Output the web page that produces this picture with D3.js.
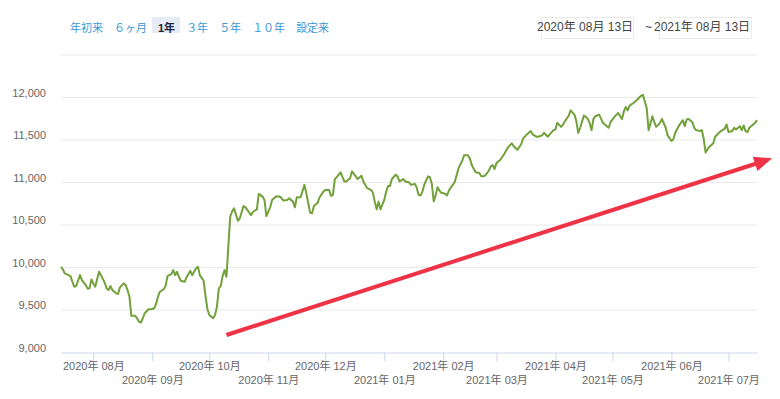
<!DOCTYPE html>
<html>
<head>
<meta charset="utf-8">
<script src="https://d3js.org/d3.v7.min.js"></script>
<style>
  body { margin: 0; background: #fff; }
  svg { display: block; font-family: "Liberation Sans", "Noto Sans CJK JP", sans-serif; }
</style>
</head>
<body>
<div id="chart"></div>
<script>
// range selector + date inputs
const rangeButtons = ["年初来", "６ヶ月", "1年", "３年", "５年", "１０年", "設定来"];
const selectedButton = "1年";
const dateFrom = "2020年 08月 13日";
const dateTo = "2021年 08月 13日";

// y axis
const yTicks = [9000, 9500, 10000, 10500, 11000, 11500, 12000];
const yMax = 12500;

// 基準価額
const navSeries = [
  ["2020-07-15", 10008], ["2020-07-16", 9977], ["2020-07-17", 9930], ["2020-07-19", 9910], ["2020-07-20", 9899],
  ["2020-07-21", 9832], ["2020-07-22", 9774], ["2020-07-23", 9782], ["2020-07-25", 9910], ["2020-07-26", 9852],
  ["2020-07-28", 9793], ["2020-07-29", 9754], ["2020-07-30", 9754], ["2020-07-31", 9860],
  ["2020-08-01", 9813], ["2020-08-02", 9774], ["2020-08-04", 9949], ["2020-08-05", 9910], ["2020-08-07", 9821],
  ["2020-08-08", 9754], ["2020-08-09", 9735], ["2020-08-10", 9782], ["2020-08-11", 9735], ["2020-08-13", 9696],
  ["2020-08-14", 9688], ["2020-08-15", 9766], ["2020-08-17", 9813], ["2020-08-18", 9793], ["2020-08-19", 9735],
  ["2020-08-20", 9657], ["2020-08-21", 9431], ["2020-08-23", 9431], ["2020-08-24", 9403], ["2020-08-25", 9364],
  ["2020-08-26", 9353], ["2020-08-27", 9403], ["2020-08-28", 9462], ["2020-08-30", 9509],
  ["2020-09-01", 9512], ["2020-09-02", 9520], ["2020-09-03", 9571], ["2020-09-04", 9657], ["2020-09-05", 9715],
  ["2020-09-07", 9743], ["2020-09-08", 9782], ["2020-09-09", 9899], ["2020-09-11", 9922], ["2020-09-12", 9969],
  ["2020-09-13", 9910], ["2020-09-14", 9949], ["2020-09-15", 9891], ["2020-09-16", 9844], ["2020-09-18", 9832],
  ["2020-09-19", 9883], ["2020-09-21", 9961], ["2020-09-22", 9910], ["2020-09-23", 9949], ["2020-09-24", 9988],
  ["2020-09-25", 10008], ["2020-09-26", 9910], ["2020-09-28", 9844], ["2020-09-29", 9665], ["2020-09-30", 9509],
  ["2020-10-01", 9442], ["2020-10-03", 9403], ["2020-10-04", 9442], ["2020-10-05", 9540], ["2020-10-06", 9754],
  ["2020-10-07", 9782], ["2020-10-08", 9899], ["2020-10-09", 9969], ["2020-10-10", 9891], ["2020-10-11", 10250],
  ["2020-10-12", 10600], ["2020-10-13", 10660], ["2020-10-14", 10696], ["2020-10-16", 10550], ["2020-10-17", 10577],
  ["2020-10-19", 10724], ["2020-10-20", 10708], ["2020-10-22", 10645], ["2020-10-23", 10617], ["2020-10-24", 10656],
  ["2020-10-26", 10684], ["2020-10-27", 10866], ["2020-10-29", 10834], ["2020-10-30", 10795], ["2020-10-31", 10605],
  ["2020-11-02", 10708], ["2020-11-03", 10795], ["2020-11-05", 10834], ["2020-11-07", 10834], ["2020-11-08", 10814],
  ["2020-11-09", 10787], ["2020-11-11", 10795], ["2020-11-12", 10814], ["2020-11-14", 10775], ["2020-11-15", 10708],
  ["2020-11-16", 10826], ["2020-11-18", 10826], ["2020-11-20", 10972], ["2020-11-21", 10874], ["2020-11-23", 10645],
  ["2020-11-24", 10637], ["2020-11-25", 10724], ["2020-11-27", 10763], ["2020-11-28", 10826], ["2020-11-30", 10893],
  ["2020-12-01", 10913], ["2020-12-03", 10913], ["2020-12-04", 10842], ["2020-12-05", 10854], ["2020-12-06", 11040],
  ["2020-12-07", 11063], ["2020-12-09", 11119], ["2020-12-11", 11012], ["2020-12-12", 11012], ["2020-12-14", 11051],
  ["2020-12-15", 11130], ["2020-12-17", 11071], ["2020-12-18", 11040], ["2020-12-20", 11079], ["2020-12-21", 11012],
  ["2020-12-23", 10933], ["2020-12-25", 10913], ["2020-12-26", 10882], ["2020-12-27", 10775], ["2020-12-28", 10684],
  ["2020-12-29", 10775], ["2020-12-30", 10684],
  ["2021-01-01", 10795], ["2021-01-02", 10893], ["2021-01-03", 10960], ["2021-01-04", 10960], ["2021-01-05", 11040],
  ["2021-01-07", 11091], ["2021-01-08", 11071], ["2021-01-09", 11012], ["2021-01-11", 11040], ["2021-01-12", 11012],
  ["2021-01-14", 11003], ["2021-01-15", 10972], ["2021-01-17", 10984], ["2021-01-18", 10945], ["2021-01-19", 10856],
  ["2021-01-20", 10848], ["2021-01-21", 10887], ["2021-01-22", 10972], ["2021-01-24", 11073], ["2021-01-25", 11062],
  ["2021-01-26", 10984], ["2021-01-27", 10778], ["2021-01-28", 10848], ["2021-01-29", 10945], ["2021-01-30", 10906],
  ["2021-01-31", 10879],
  ["2021-02-02", 10868], ["2021-02-03", 10848], ["2021-02-04", 10906], ["2021-02-06", 10972], ["2021-02-07", 11003],
  ["2021-02-08", 11081], ["2021-02-09", 11166], ["2021-02-11", 11256], ["2021-02-12", 11322], ["2021-02-14", 11322],
  ["2021-02-15", 11283], ["2021-02-16", 11205], ["2021-02-18", 11120], ["2021-02-20", 11112], ["2021-02-21", 11073],
  ["2021-02-22", 11073], ["2021-02-23", 11081], ["2021-02-25", 11139], ["2021-02-26", 11190], ["2021-02-27", 11205],
  ["2021-02-28", 11159],
  ["2021-03-01", 11228], ["2021-03-03", 11267], ["2021-03-05", 11333], ["2021-03-07", 11411], ["2021-03-09", 11461],
  ["2021-03-10", 11430], ["2021-03-12", 11384], ["2021-03-14", 11450], ["2021-03-15", 11516], ["2021-03-17", 11566],
  ["2021-03-19", 11605], ["2021-03-20", 11566], ["2021-03-22", 11539], ["2021-03-23", 11539], ["2021-03-25", 11554],
  ["2021-03-26", 11585], ["2021-03-28", 11539], ["2021-03-29", 11566], ["2021-03-31", 11616],
  ["2021-04-01", 11624], ["2021-04-02", 11702], ["2021-04-04", 11655], ["2021-04-05", 11682], ["2021-04-06", 11721],
  ["2021-04-08", 11787], ["2021-04-09", 11849], ["2021-04-11", 11799], ["2021-04-12", 11721], ["2021-04-13", 11585],
  ["2021-04-14", 11644], ["2021-04-16", 11787], ["2021-04-17", 11772], ["2021-04-18", 11748], ["2021-04-19", 11702],
  ["2021-04-20", 11616], ["2021-04-21", 11748], ["2021-04-22", 11779], ["2021-04-24", 11799], ["2021-04-26", 11702],
  ["2021-04-27", 11682], ["2021-04-29", 11644], ["2021-04-30", 11710],
  ["2021-05-02", 11772], ["2021-05-04", 11818], ["2021-05-06", 11748], ["2021-05-07", 11838], ["2021-05-08", 11888],
  ["2021-05-09", 11849], ["2021-05-10", 11904], ["2021-05-12", 11935], ["2021-05-14", 11973], ["2021-05-16", 12020],
  ["2021-05-17", 12032], ["2021-05-18", 11954], ["2021-05-19", 11876], ["2021-05-20", 11616], ["2021-05-22", 11779],
  ["2021-05-23", 11710], ["2021-05-24", 11655], ["2021-05-26", 11702], ["2021-05-27", 11748], ["2021-05-29", 11644],
  ["2021-05-30", 11554],
  ["2021-06-01", 11488], ["2021-06-02", 11508], ["2021-06-03", 11585], ["2021-06-05", 11671], ["2021-06-07", 11733],
  ["2021-06-08", 11663], ["2021-06-09", 11741], ["2021-06-10", 11748], ["2021-06-12", 11710], ["2021-06-13", 11644],
  ["2021-06-14", 11616], ["2021-06-16", 11605], ["2021-06-17", 11616], ["2021-06-18", 11508], ["2021-06-19", 11353],
  ["2021-06-20", 11392], ["2021-06-21", 11422], ["2021-06-23", 11461], ["2021-06-24", 11539], ["2021-06-26", 11585],
  ["2021-06-27", 11605], ["2021-06-29", 11632], ["2021-06-30", 11682],
  ["2021-07-01", 11593], ["2021-07-03", 11605], ["2021-07-04", 11644], ["2021-07-05", 11624], ["2021-07-07", 11663],
  ["2021-07-08", 11616], ["2021-07-09", 11671], ["2021-07-10", 11605], ["2021-07-11", 11593], ["2021-07-12", 11644],
  ["2021-07-14", 11682], ["2021-07-15", 11702], ["2021-07-16", 11733]
];

// hand-drawn red trend arrow, in chart units
const trendFrom = ["2020-10-10", 9206];
const trendTo = ["2021-07-24", 11284];

const width = 780, height = 399;
const parse = d3.timeParse("%Y-%m-%d");
const data = navSeries.map(d => ({ date: parse(d[0]), nav: d[1] }));

const svg = d3.select("#chart").append("svg")
  .attr("width", width)
  .attr("height", height);

const plotLeft = 61, plotRight = 757, plotTop = 55, plotBottom = 352.5;

const xs = d3.scaleTime().domain(d3.extent(data, d => d.date)).range([plotLeft, plotRight]);
const ys = d3.scaleLinear().domain([yTicks[0], yMax]).range([plotBottom, plotTop]);

// grid lines
svg.append("g").selectAll("line")
  .data(yTicks.slice(1).concat([yMax]))
  .enter().append("line")
  .attr("x1", plotLeft).attr("x2", plotRight)
  .attr("y1", d => ys(d)).attr("y2", d => ys(d))
  .attr("stroke", "#e9e9e9")
  .attr("stroke-width", 1);

// y labels
svg.append("g").selectAll("text")
  .data(yTicks)
  .enter().append("text")
  .attr("x", 46)
  .attr("y", d => ys(d) - 1)
  .attr("text-anchor", "end")
  .attr("fill", "#666")
  .style("font-size", "11px")
  .text(d3.format(","));

// x axis
const xAxis = d3.axisBottom(xs)
  .ticks(d3.timeMonth.every(1))
  .tickFormat(d3.timeFormat("%Y年 %m月"))
  .tickSize(9)
  .tickSizeOuter(0);

const gx = svg.append("g")
  .attr("transform", "translate(0," + plotBottom + ")")
  .call(xAxis);
gx.select(".domain").attr("stroke", "#ccd6eb");
gx.selectAll(".tick line").attr("stroke", "#ccd6eb");
gx.selectAll(".tick text")
  .attr("fill", "#666")
  .style("font-size", "11px")
  .style("font-family", "\"Liberation Sans\", \"Noto Sans CJK JP\", sans-serif")
  .attr("y", (d, i) => i % 2 == 0 ? 10 : 23.5);

// nav line
const line = d3.line()
  .x(d => xs(d.date))
  .y(d => ys(d.nav));

svg.append("path")
  .datum(data)
  .attr("d", line)
  .attr("fill", "none")
  .attr("stroke", "#72a13a")
  .attr("stroke-width", 2)
  .attr("stroke-linejoin", "round");

// red arrow
const p0 = [xs(parse(trendFrom[0])), ys(trendFrom[1])];
const p1 = [xs(parse(trendTo[0])), ys(trendTo[1])];
const len = Math.hypot(p1[0] - p0[0], p1[1] - p0[1]);
const ux = (p1[0] - p0[0]) / len, uy = (p1[1] - p0[1]) / len;
const headLen = 18, headHalf = 7.5;
const bx = p1[0] - ux * headLen, by = p1[1] - uy * headLen;

svg.append("line")
  .attr("x1", p0[0]).attr("y1", p0[1])
  .attr("x2", bx + ux * 3).attr("y2", by + uy * 3)
  .attr("stroke", "#ef3347")
  .attr("stroke-width", 4);

svg.append("polygon")
  .attr("points", [
    [p1[0], p1[1]],
    [bx - uy * headHalf, by + ux * headHalf],
    [bx + uy * headHalf, by - ux * headHalf]
  ].map(p => p.join(",")).join(" "))
  .attr("fill", "#ef3347");

// range selector
const btnG = svg.append("g");
let bxPos = 70;
rangeButtons.forEach(function (label) {
  const sel = label == selectedButton;
  const t = btnG.append("text")
    .attr("x", bxPos)
    .attr("y", 32)
    .attr("fill", sel ? "#1c2540" : "#3b98d6")
    .style("font-size", "11px")
    .style("font-weight", sel ? "bold" : "normal")
    .text(label);
  const w = t.node().getComputedTextLength();
  if (sel) {
    btnG.insert("rect", "text")
      .attr("x", bxPos - 6).attr("y", 17)
      .attr("width", w + 11).attr("height", 16)
      .attr("fill", "#e6ebf5");
  }
  bxPos += w + 11;
});

// date inputs
const dateG = svg.append("g");
[[dateFrom, 541.5, 537], [dateTo, 659.5, 654]].forEach(function (d) {
  dateG.append("rect")
    .attr("x", d[1]).attr("y", 17.5)
    .attr("width", 92).attr("height", 21)
    .attr("fill", "none")
    .attr("stroke", "#d4d4d4")
    .attr("stroke-dasharray", "1,1");
  dateG.append("text")
    .attr("x", d[2]).attr("y", 31)
    .attr("fill", "#444")
    .style("font-size", "12px")
    .text(d[0]);
});
dateG.append("text")
  .attr("x", 645).attr("y", 31)
  .attr("fill", "#444")
  .style("font-size", "12px")
  .text("~");
</script>
</body>
</html>
